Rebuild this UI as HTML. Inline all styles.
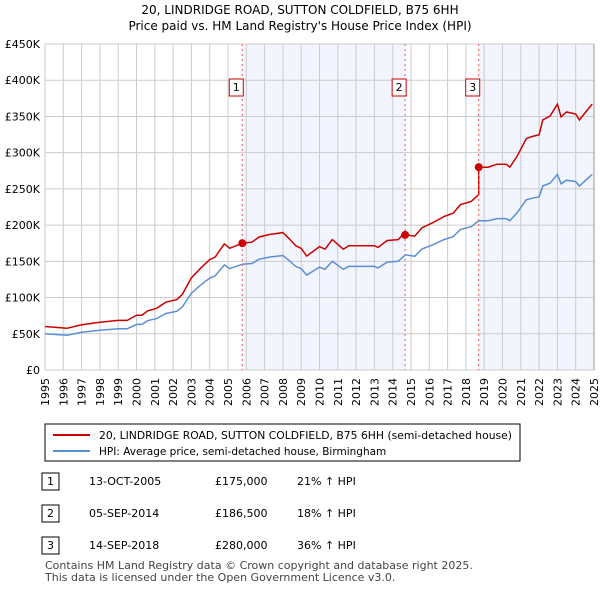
<!DOCTYPE html>
<html><head><meta charset="utf-8"><style>
body{margin:0;background:#fff;font-family:"Liberation Sans","DejaVu Sans",sans-serif;}
svg text{font-family:"DejaVu Sans","Liberation Sans",sans-serif;}
</style></head><body>
<svg id="c" width="600" height="590" viewBox="0 0 600 590" xmlns="http://www.w3.org/2000/svg">
<text x="300" y="14" text-anchor="middle" font-size="12" fill="#000">20, LINDRIDGE ROAD, SUTTON COLDFIELD, B75 6HH</text>
<text x="300" y="30" text-anchor="middle" font-size="12" fill="#000">Price paid vs. HM Land Registry's House Price Index (HPI)</text>
<g id="grid"></g><g id="marks"></g>
<rect x="45" y="424" width="475" height="37" fill="#fff" stroke="#000" stroke-width="1"/>
<line x1="53" y1="435" x2="90" y2="435" stroke="#cc0000" stroke-width="2"/>
<text x="99" y="439" font-size="10.5" textLength="413" lengthAdjust="spacingAndGlyphs">20, LINDRIDGE ROAD, SUTTON COLDFIELD, B75 6HH (semi-detached house)</text>
<line x1="53" y1="451" x2="90" y2="451" stroke="#5b8fd4" stroke-width="2"/>
<text x="99" y="455" font-size="10.5">HPI: Average price, semi-detached house, Birmingham</text>
<g font-size="11">
<rect x="42" y="473" width="17" height="17" fill="#fff" stroke="#000"/><text x="50.5" y="485" text-anchor="middle">1</text>
<text x="89" y="485">13-OCT-2005</text><text x="215" y="485">£175,000</text><text x="297" y="485">21% ↑ HPI</text>
<rect x="42" y="505" width="17" height="17" fill="#fff" stroke="#000"/><text x="50.5" y="517" text-anchor="middle">2</text>
<text x="89" y="517">05-SEP-2014</text><text x="215" y="517">£186,500</text><text x="297" y="517">18% ↑ HPI</text>
<rect x="42" y="537" width="17" height="17" fill="#fff" stroke="#000"/><text x="50.5" y="549" text-anchor="middle">3</text>
<text x="89" y="549">14-SEP-2018</text><text x="215" y="549">£280,000</text><text x="297" y="549">36% ↑ HPI</text>
</g>
<text x="45" y="569" font-size="11" fill="#444">Contains HM Land Registry data © Crown copyright and database right 2025.</text>
<text x="45" y="581" font-size="11" fill="#444">This data is licensed under the Open Government Licence v3.0.</text>
</svg>
<script>
const hpiYears=[1995,1996.2,1997,1998,1999,1999.5,2000,2000.3,2000.6,2001.1,2001.6,2002.2,2002.5,2003,2003.5,2004,2004.3,2004.8,2005.1,2005.8,2006.3,2006.7,2007.3,2008,2008.3,2008.7,2009,2009.3,2010,2010.3,2010.7,2011.3,2011.6,2012,2013,2013.2,2013.7,2014.3,2014.7,2015.2,2015.6,2016.2,2016.8,2017.3,2017.7,2018.3,2018.7,2019.2,2019.7,2020.2,2020.4,2020.8,2021.3,2021.6,2022,2022.2,2022.6,2023,2023.2,2023.5,2024,2024.2,2024.5,2024.9];
const hpiValues=[50,48,52,55,57,57,63,63,68,71,78,81,87,106,117,127,130,145,140,146,147,153,156,158,152,143,140,131,142,139,150,139,143,143,143,141,149,150,159,157,167,173,180,184,194,198,206,206,209,209,206,217,235,237,239,254,258,270,257,262,260,254,261,270];
const saleYears=[2005.78,2014.68,2018.7];
const salePrices=[175,186.5,280];
const saleLabels=["1","2","3"];
const yTicks=[0,50,100,150,200,250,300,350,400,450];
const yTickLabels=["£0","£50K","£100K","£150K","£200K","£250K","£300K","£350K","£400K","£450K"];
const xTicks=[];for(let y=1995;y<=2025;y++)xTicks.push(y);
const NS="http://www.w3.org/2000/svg";
const X0=45,X1=594,Y0=370,Y1=44;
const xs=y=>X0+(y-1995)/30*(X1-X0);
const ys=v=>Y0-v/450*(Y0-Y1);
function mk(tag,attrs,parent){const e=document.createElementNS(NS,tag);for(const k in attrs)e.setAttribute(k,attrs[k]);parent.appendChild(e);return e;}
function hpiAt(t){for(let i=0;i<hpiYears.length-1;i++){if(t<=hpiYears[i+1]){const f=(t-hpiYears[i])/(hpiYears[i+1]-hpiYears[i]);return hpiValues[i]+f*(hpiValues[i+1]-hpiValues[i]);}}return hpiValues[hpiValues.length-1];}
const g=document.getElementById('grid'),m=document.getElementById('marks');
const sh1=mk('rect',{x:xs(saleYears[0]),y:Y1,width:xs(saleYears[1])-xs(saleYears[0]),height:Y0-Y1,fill:'#f2f5fd'},g);


const sh2=mk('rect',{x:xs(saleYears[2]),y:Y1,width:X1-xs(saleYears[2]),height:Y0-Y1,fill:'#f2f5fd'},g);


xTicks.forEach(y=>{const l=mk('line',{x1:xs(y),x2:xs(y),y1:Y1,y2:Y0,stroke:'#cccccc','stroke-width':1},g);


const t=mk('text',{x:0,y:0,'font-size':11,'text-anchor':'end',transform:`translate(${xs(y)+4},${Y0+8}) rotate(-90)`},g);t.textContent=y;

});
yTicks.forEach((v,i)=>{const l=mk('line',{x1:X0,x2:X1,y1:ys(v),y2:ys(v),stroke:'#cccccc','stroke-width':1},g);


const t=mk('text',{x:40,y:ys(v)+4,'font-size':11,'text-anchor':'end'},g);t.textContent=yTickLabels[i];

});
let d='';hpiYears.forEach((y,i)=>{d+=(i?'L':'M')+xs(y).toFixed(1)+','+ys(hpiValues[i]).toFixed(1);});
const hl=mk('path',{d:d,fill:'none',stroke:'#5b8fd4','stroke-width':1.5},m);


function factorAt(t){let k=0;for(let i=0;i<saleYears.length;i++)if(t>=saleYears[i])k=i;return salePrices[k]/hpiAt(saleYears[k]);}
const pts=[];hpiYears.forEach(y=>pts.push(y));saleYears.forEach(s=>{pts.push(s-0.001);pts.push(s);});pts.sort((a,b)=>a-b);
let d2='';pts.forEach((t,i)=>{d2+=(i?'L':'M')+xs(t).toFixed(1)+','+ys(hpiAt(t)*factorAt(t)).toFixed(1);});
const pl=mk('path',{d:d2,fill:'none',stroke:'#cc0000','stroke-width':1.5},m);


saleYears.forEach((s,i)=>{
const vl=mk('line',{x1:xs(s),x2:xs(s),y1:Y1,y2:Y0,stroke:'#ee5555','stroke-width':1,'stroke-dasharray':'2,3'},m);


const c=mk('circle',{cx:xs(s),cy:ys(salePrices[i]),r:4,fill:'#cc0000'},m);


const b=mk('rect',{x:xs(s)-13,y:79,width:14,height:17,fill:'#fff',stroke:'#cc0000'},m);


const t=mk('text',{x:xs(s)-6,y:91,'font-size':11,'text-anchor':'middle'},m);t.textContent=saleLabels[i];


});
const ax=mk('line',{x1:X1,x2:X1,y1:Y1,y2:Y0,stroke:'#999','stroke-width':1},m);


</script>
</body></html>
